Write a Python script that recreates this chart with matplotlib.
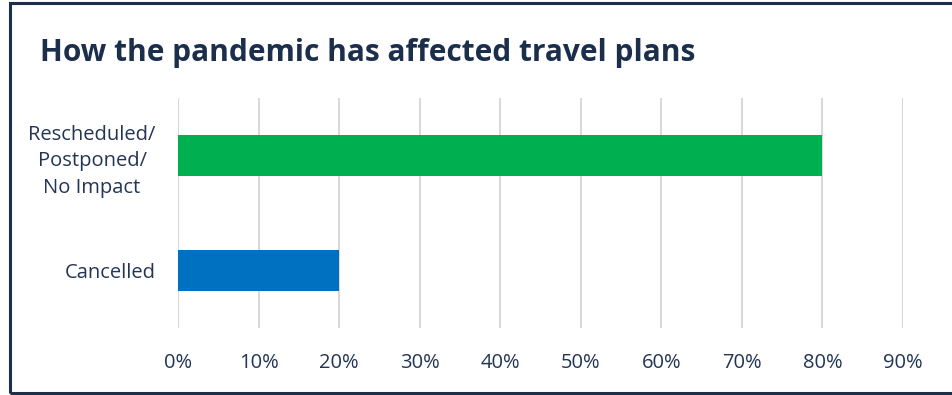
import matplotlib.pyplot as plt
from matplotlib.patches import Rectangle
from matplotlib.ticker import FuncFormatter

# data
categories = ["Rescheduled/\nPostponed/\nNo Impact", "Cancelled"]
shares = [80, 20]
bar_colors = ["#00B050", "#0070C0"]
ticks = [0, 10, 20, 30, 40, 50, 60, 70, 80, 90]

navy = "#1B2E4B"
text_color = "#233554"

plt.rcParams["font.family"] = ["Open Sans", "DejaVu Sans"]

W, H = 953, 395
fig = plt.figure(figsize=(W / 100, H / 100), dpi=100)

# axes box in pixel units from the reference
left, right, top, bottom = 178, 903, 98, 328
ax = fig.add_axes([left / W, 1 - bottom / H, (right - left) / W, (bottom - top) / H])

ypos = list(range(len(categories)))
ax.barh(ypos, shares, height=0.36, color=bar_colors, zorder=3)
ax.set_ylim(1.5, -0.5)
ax.set_xlim(0, 90)
ax.set_xticks(ticks)
ax.xaxis.set_major_formatter(FuncFormatter(lambda v, p: f"{v:.0f}%"))
ax.set_yticks(ypos)
ax.set_yticklabels(categories, multialignment="center", linespacing=1.45)
ax.grid(axis="x", color="#D9D9D9", linewidth=1.5, zorder=0)
for s in ax.spines.values():
    s.set_visible(False)
ax.tick_params(axis="both", length=0, labelsize=14.5, labelcolor=text_color)
ax.tick_params(axis="x", pad=18)
ax.tick_params(axis="y", pad=16)

fig.text(40 / W, 1 - 53 / H, "How the pandemic has affected travel plans",
         fontsize=21.5, fontweight="bold", color=navy, va="center", ha="left")

# outer frame
fig.patches.append(Rectangle((10 / W, 2 / H), 1.0, 1 - 5 / H, transform=fig.transFigure,
                             fill=False, edgecolor=navy, linewidth=2.2, clip_on=False))

fig.savefig("out.png", dpi=100)
